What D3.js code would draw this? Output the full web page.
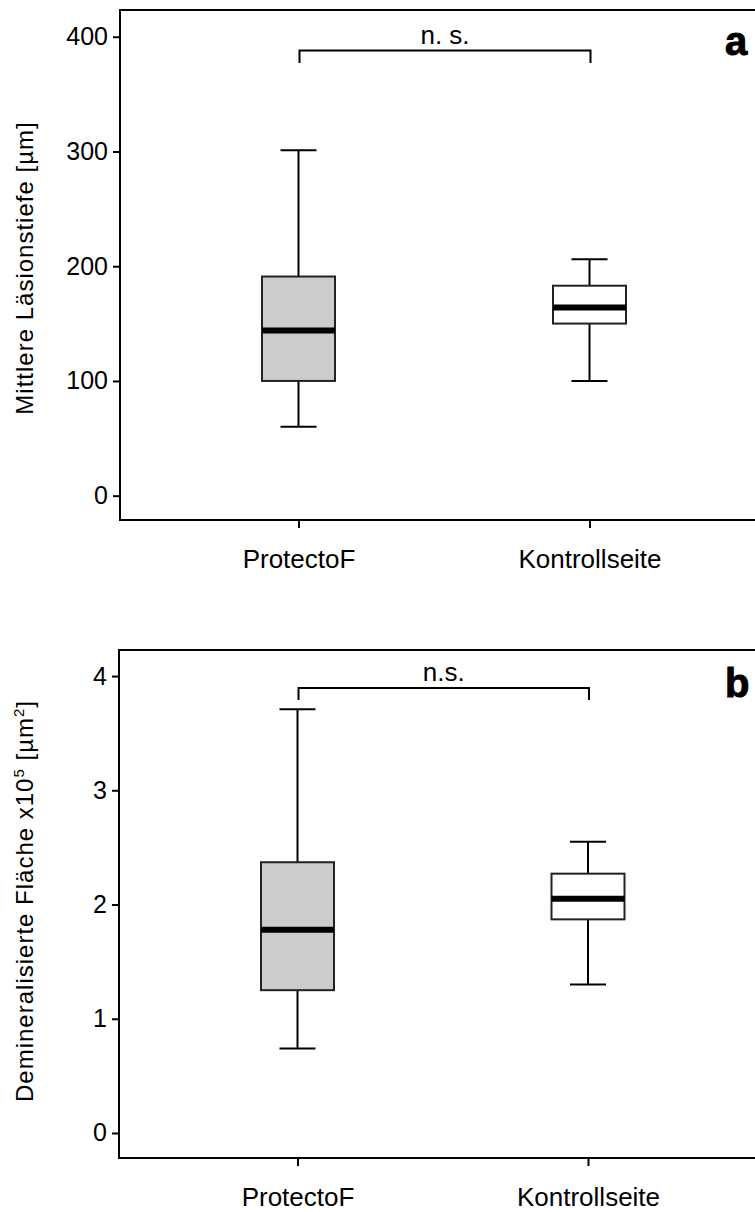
<!DOCTYPE html>
<html>
<head>
<meta charset="utf-8">
<script src="https://cdn.jsdelivr.net/npm/d3@7"></script>
<style>
  html, body { margin: 0; padding: 0; background: #fff; }
  svg { display: block; }
  text { font-family: "Liberation Sans", Arial, sans-serif; fill: #000; }
</style>
</head>
<body>
<script>
// ---------- data ----------
const categories = ["ProtectoF", "Kontrollseite"];

// Panel a: Mittlere Läsionstiefe [µm]
const depthMin    = [60, 100];
const depthQ1     = [100, 150];
const depthMedian = [144, 164];
const depthQ3     = [191, 183];
const depthMax    = [301, 206];
const depthTicks  = [0, 100, 200, 300, 400];

// Panel b: Demineralisierte Fläche x10^5 [µm²]
const areaMin    = [0.74, 1.30];
const areaQ1     = [1.25, 1.87];
const areaMedian = [1.78, 2.05];
const areaQ3     = [2.37, 2.27];
const areaMax    = [3.71, 2.55];
const areaTicks  = [0, 1, 2, 3, 4];

const fills = ["#cccccc", "#ffffff"];

// ---------- drawing ----------
const W = 755, H = 1212;
const svg = d3.select("body").append("svg").attr("width", W).attr("height", H);

function panel(opts) {
  const g = svg.append("g");
  const x = d3.scalePoint().domain(categories).range(opts.xRange);
  const y = d3.scaleLinear().domain(opts.yDomain).range([opts.bottom, opts.top]);

  // frame (right side extends beyond the view)
  g.append("rect")
    .attr("x", opts.left).attr("y", opts.top)
    .attr("width", 800 - opts.left).attr("height", opts.bottom - opts.top)
    .attr("fill", "none").attr("stroke", "#000").attr("stroke-width", 2);

  // y axis
  const yAxis = d3.axisLeft(y).tickValues(opts.ticks).tickSize(7).tickPadding(5)
    .tickFormat(d3.format("d"));
  const ya = g.append("g").attr("transform", `translate(${opts.left},0)`).call(yAxis);
  ya.select(".domain").remove();
  ya.selectAll(".tick line").attr("stroke", "#000").attr("stroke-width", 2);
  ya.selectAll(".tick text").attr("font-size", 25).attr("fill", "#000")
    .style("font-family", '"Liberation Sans", Arial, sans-serif');

  // x axis
  const xAxis = d3.axisBottom(x).tickSize(8).tickPadding(22);
  const xa = g.append("g").attr("transform", `translate(0,${opts.bottom})`).call(xAxis);
  xa.select(".domain").remove();
  xa.selectAll(".tick line").attr("stroke", "#000").attr("stroke-width", 2);
  xa.selectAll(".tick text").attr("font-size", 26).attr("fill", "#000")
    .style("font-family", '"Liberation Sans", Arial, sans-serif');

  const boxW = 73, capW = 36;
  const rows = categories.map((c, i) => ({
    c, i, min: opts.min[i], q1: opts.q1[i], med: opts.med[i], q3: opts.q3[i], max: opts.max[i]
  }));
  const bx = g.selectAll("g.box").data(rows).join("g").attr("class", "box");

  // whiskers
  bx.append("line")
    .attr("x1", d => x(d.c)).attr("x2", d => x(d.c))
    .attr("y1", d => y(d.max)).attr("y2", d => y(d.q3))
    .attr("stroke", "#000").attr("stroke-width", 2);
  bx.append("line")
    .attr("x1", d => x(d.c)).attr("x2", d => x(d.c))
    .attr("y1", d => y(d.q1)).attr("y2", d => y(d.min))
    .attr("stroke", "#000").attr("stroke-width", 2);
  bx.append("line")
    .attr("x1", d => x(d.c) - capW / 2).attr("x2", d => x(d.c) + capW / 2)
    .attr("y1", d => y(d.max)).attr("y2", d => y(d.max))
    .attr("stroke", "#000").attr("stroke-width", 2);
  bx.append("line")
    .attr("x1", d => x(d.c) - capW / 2).attr("x2", d => x(d.c) + capW / 2)
    .attr("y1", d => y(d.min)).attr("y2", d => y(d.min))
    .attr("stroke", "#000").attr("stroke-width", 2);

  // boxes
  bx.append("rect")
    .attr("x", d => x(d.c) - boxW / 2).attr("width", boxW)
    .attr("y", d => y(d.q3)).attr("height", d => y(d.q1) - y(d.q3))
    .attr("fill", d => fills[d.i]).attr("stroke", "#222").attr("stroke-width", 2);

  // medians
  bx.append("line")
    .attr("x1", d => x(d.c) - boxW / 2).attr("x2", d => x(d.c) + boxW / 2)
    .attr("y1", d => y(d.med)).attr("y2", d => y(d.med))
    .attr("stroke", "#000").attr("stroke-width", 6);

  // significance bracket
  const bY = y(opts.bracket), bT = y(opts.bracketTick);
  const xl = x(categories[0]) + 1, xr = x(categories[1]) + 1;
  g.append("path")
    .attr("d", `M${xl},${bT}V${bY}H${xr}V${bT}`)
    .attr("fill", "none").attr("stroke", "#000").attr("stroke-width", 2);
  g.append("text")
    .attr("x", (xl + xr) / 2).attr("y", bY - 7)
    .attr("text-anchor", "middle").attr("font-size", 26)
    .text(opts.sig);

  // panel letter
  g.append("text")
    .attr("x", 725).attr("y", opts.letterY)
    .attr("font-size", 40).attr("font-weight", "bold")
    .style("stroke", "#000").style("stroke-width", 1)
    .text(opts.letter);

  return { g, x, y };
}

// Panel a
const pa = panel({
  left: 120, top: 10, bottom: 520, xRange: [298.5, 589.5],
  yDomain: [-21.2, 423.3], ticks: depthTicks,
  min: depthMin, q1: depthQ1, med: depthMedian, q3: depthQ3, max: depthMax,
  bracket: 388, bracketTick: 377, sig: "n. s.", letter: "a", letterY: 55
});
svg.append("text")
  .attr("transform", "translate(33,268) rotate(-90)")
  .attr("text-anchor", "middle").attr("font-size", 24)
  .attr("letter-spacing", 1)
  .text("Mittlere Läsionstiefe  [µm]");

// Panel b
const pb = panel({
  left: 119, top: 650, bottom: 1158, xRange: [297.5, 588],
  yDomain: [-0.219, 4.228], ticks: areaTicks,
  min: areaMin, q1: areaQ1, med: areaMedian, q3: areaQ3, max: areaMax,
  bracket: 3.896, bracketTick: 3.79, sig: "n.s.", letter: "b", letterY: 697
});
const lb = svg.append("text")
  .attr("transform", "translate(33,901) rotate(-90)")
  .attr("text-anchor", "middle").attr("font-size", 24)
  .attr("letter-spacing", 1);
lb.append("tspan").text("Demineralisierte Fläche x10");
lb.append("tspan").attr("dy", -9).attr("font-size", 15).text("5");
lb.append("tspan").attr("dy", 9).text(" [µm");
lb.append("tspan").attr("dy", -9).attr("font-size", 15).text("2");
lb.append("tspan").attr("dy", 9).text("]");
</script>
</body>
</html>
